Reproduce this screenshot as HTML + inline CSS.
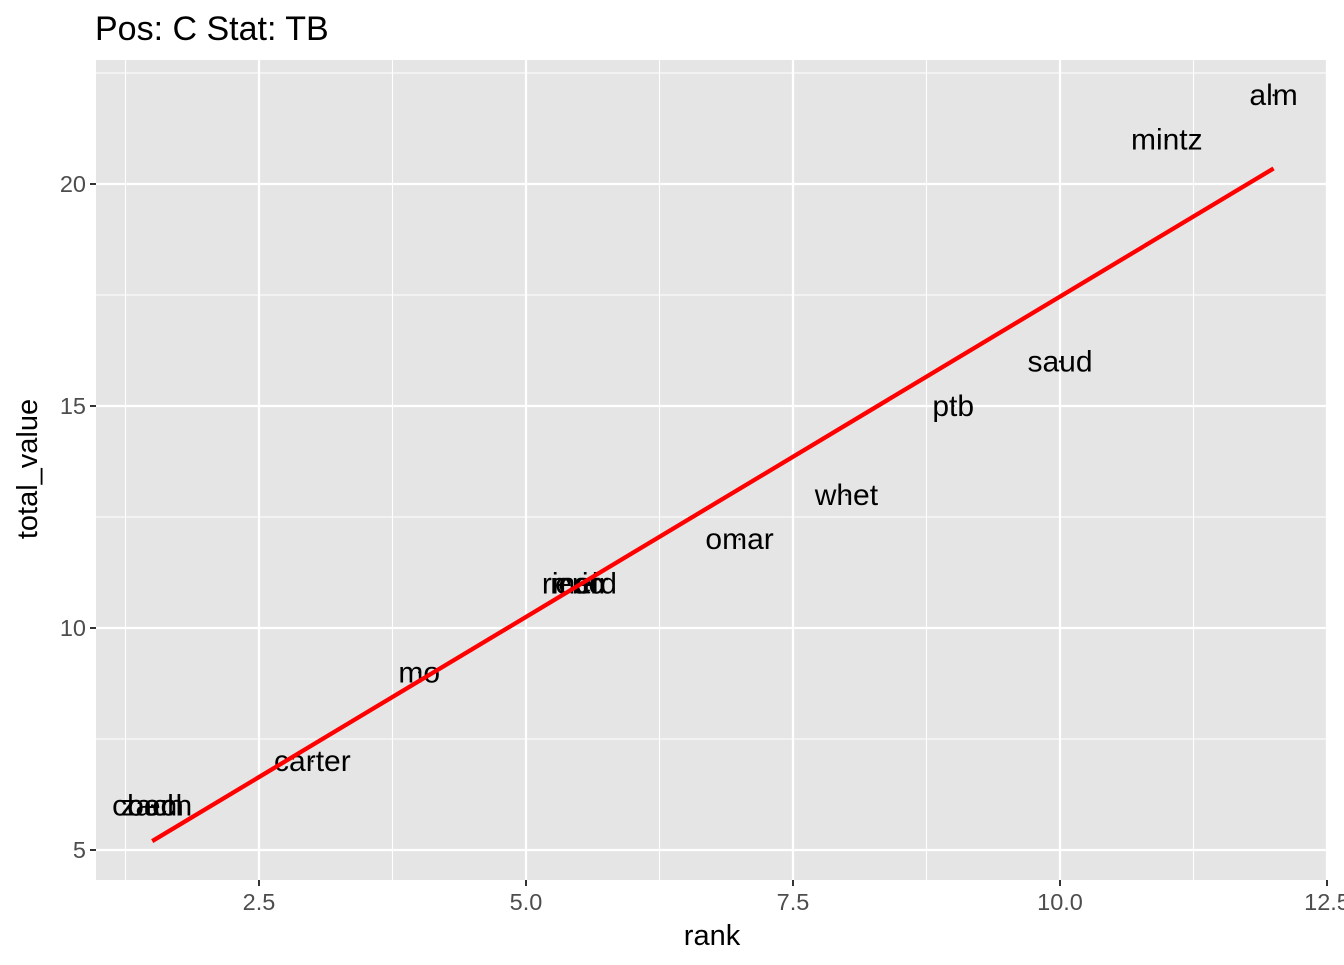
<!DOCTYPE html>
<html><head><meta charset="utf-8"><style>
body{margin:0;background:#fff;}
svg{font-family:"Liberation Sans",Arial,sans-serif;}
</style></head><body>
<svg id="chart" width="1344" height="960">
<text x="95" y="40" font-size="34" fill="#000">Pos: C Stat: TB</text>
<rect x="96" y="60" width="1232" height="820" fill="#e5e5e5"/>
<g id="grid"></g>
<g id="marks"></g>
<g id="axes"></g>
<text x="712" y="945" font-size="29" text-anchor="middle">rank</text>
<text transform="translate(37,469) rotate(-90)" font-size="29" text-anchor="middle">total_value</text>
</svg>
<script>
const names=["alm","mintz","saud","ptb","whet","omar","meir","eric","ricard","mo","carter","ben","coach","zach"];
const ranks=[12,11,10,9,8,7,5.5,5.5,5.5,4,3,1.5,1.5,1.5];
const values=[22,21,16,15,13,12,11,11,11,9,7,6,6,6];
const fitX=[1.5,12];
const fitY=[5.2,20.35];
const xTicks=[2.5,5.0,7.5,10.0,12.5];
const yTicks=[5,10,15,20];
const xMinor=[1.25,3.75,6.25,8.75,11.25];
const yMinor=[7.5,12.5,17.5,22.5];
const X=v=>-8+106.8*v, Y=v=>850-44.4*(v-5);
const NS="http://www.w3.org/2000/svg";
function mk(t,a,p){const e=document.createElementNS(NS,t);for(const k in a)e.setAttribute(k,a[k]);p.appendChild(e);return e;}
const g=document.getElementById('grid'),m=document.getElementById('marks'),ax=document.getElementById('axes');
xMinor.forEach(v=>{const l=mk('line',{x1:X(v),x2:X(v),y1:60,y2:880,stroke:'#fff','stroke-width':1.1},g);

});
yMinor.forEach(v=>{const l=mk('line',{x1:96,x2:1328,y1:Y(v),y2:Y(v),stroke:'#fff','stroke-width':1.1},g);

});
xTicks.forEach(v=>{const l=mk('line',{x1:X(v),x2:X(v),y1:60,y2:880,stroke:'#fff','stroke-width':2.2},g);


const t=mk('line',{x1:X(v),x2:X(v),y1:880,y2:886,stroke:'#333','stroke-width':2},ax);


const s=mk('text',{x:X(v),y:910,'font-size':23.5,fill:'#4d4d4d','text-anchor':'middle'},ax);s.textContent=v.toFixed(1);

});
yTicks.forEach(v=>{const l=mk('line',{x1:96,x2:1328,y1:Y(v),y2:Y(v),stroke:'#fff','stroke-width':2.2},g);


const t=mk('line',{x1:90,x2:96,y1:Y(v),y2:Y(v),stroke:'#333','stroke-width':2},ax);


const s=mk('text',{x:86,y:Y(v)+8,'font-size':23.5,fill:'#4d4d4d','text-anchor':'end'},ax);s.textContent=v;

});
ranks.forEach((r,i)=>{const c=mk('circle',{cx:X(r),cy:Y(values[i]),r:1.2,fill:'#000'},m);


const t=mk('text',{x:X(r),y:Y(values[i])+10,'font-size':30,'text-anchor':'middle',fill:'#000'},m);t.textContent=names[i];

});
const fl=mk('line',{x1:X(fitX[0]),y1:Y(fitY[0]),x2:X(fitX[1]),y2:Y(fitY[1]),stroke:'#ff0000','stroke-width':4.3},m);


</script>
</body></html>
